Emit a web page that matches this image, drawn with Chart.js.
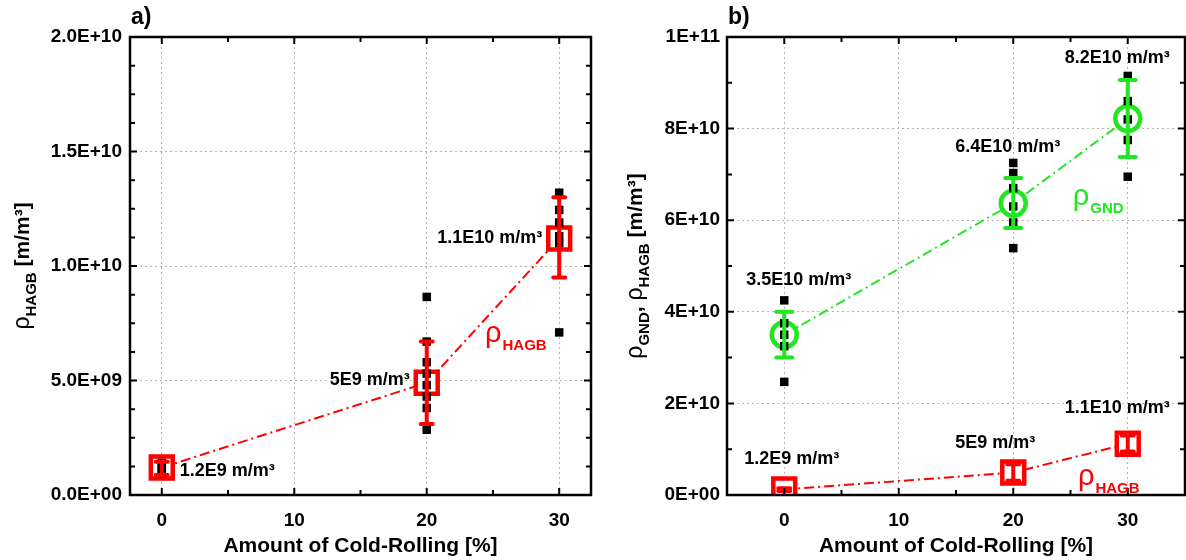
<!DOCTYPE html>
<html>
<head>
<meta charset="utf-8">
<script src="https://cdn.jsdelivr.net/npm/chart.js@4.4.1/dist/chart.umd.min.js"></script>
<style>
  html, body { margin: 0; padding: 0; background: #fff; }
  #wrap { position: relative; width: 1186px; height: 560px; overflow: hidden; }
  canvas { position: absolute; top: 0; }
  #chart-a { left: 0; }
  #chart-b { left: 600px; }
</style>
</head>
<body>
<div id="wrap">
  <canvas id="chart-a" width="600" height="560"></canvas>
  <canvas id="chart-b" width="586" height="560"></canvas>
</div>
<script>
// ── Data ──────────────────────────────────────────────────────────────────────
const rolling  = [0, 20, 30];               // amount of cold-rolling [%]
const hagbMean = [1.2e9, 4.9e9, 1.12e10];
const hagbLow  = [0.87e9, 3.1e9, 9.5e9];
const hagbHigh = [1.45e9, 6.7e9, 1.3e10];
const gndMean  = [3.5e10, 6.37e10, 8.22e10];
const gndLow   = [3.0e10, 5.83e10, 7.38e10];
const gndHigh  = [4.0e10, 6.92e10, 9.06e10];

// individual measurements (black squares)
const hagbPts0  = [0.95e9, 1.1e9, 1.3e9, 1.4e9];
const hagbPts20 = [8.65e9, 6.7e9, 5.8e9, 5.3e9, 4.8e9, 4.3e9, 3.8e9, 2.85e9];
const hagbPts30 = [1.32e10, 1.245e10, 1.19e10, 1.13e10, 1.1e10, 7.1e9];
const gndPts0   = [4.25e10, 3.75e10, 3.5e10, 3.25e10, 2.47e10];
const gndPts20  = [7.25e10, 7.03e10, 6.7e10, 6.3e10, 5.95e10, 5.39e10];
const gndPts30  = [9.15e10, 8.6e10, 8.2e10, 7.75e10, 6.95e10];

const hagbText = ["1.2E9 m/m³", "5E9 m/m³", "1.1E10 m/m³"];
const gndText  = ["3.5E10 m/m³", "6.4E10 m/m³", "8.2E10 m/m³"];

const xTicks   = [0, 10, 20, 30];
const yTicksA  = [0, 5e9, 1e10, 1.5e10, 2e10];
const yLabelsA = ["0.0E+00", "5.0E+09", "1.0E+10", "1.5E+10", "2.0E+10"];
const yTicksB  = [0, 2e10, 4e10, 6e10, 8e10, 1e11];
const yLabelsB = ["0E+00", "2E+10", "4E+10", "6E+10", "8E+10", "1E+11"];

// ── Helpers ───────────────────────────────────────────────────────────────────
const RED = "#ff0000";
const GREEN = "#22e622";
const FONT = "'Liberation Sans', Arial, sans-serif";

const meanPoints = ys => ys.map((y, i) => ({ x: rolling[i], y }));
const measPoints = groups => groups.flatMap((ys, i) => ys.map(y => ({ x: rolling[i], y })));

const decorPlugin = {
  id: "decor",
  afterDatasetsDraw(chart, args, o) {
    const { ctx, scales: { x, y } } = chart;
    o.errorBars.forEach(eb => {
      ctx.save();
      ctx.strokeStyle = eb.color;
      ctx.lineWidth = 4;
      ctx.lineCap = "round";
      eb.low.forEach((lv, i) => {
        const px = x.getPixelForValue(rolling[i]);
        const lo = y.getPixelForValue(lv), hi = y.getPixelForValue(eb.high[i]);
        ctx.beginPath();
        ctx.moveTo(px, lo); ctx.lineTo(px, hi);
        ctx.moveTo(px - eb.cap, lo); ctx.lineTo(px + eb.cap, lo);
        ctx.moveTo(px - eb.cap, hi); ctx.lineTo(px + eb.cap, hi);
        ctx.stroke();
      });
      ctx.restore();
    });
  },
  afterDraw(chart, args, o) {
    const { ctx, chartArea: a, scales: { x, y } } = chart;
    ctx.save();

    // frame + inward ticks
    ctx.strokeStyle = "#000";
    ctx.lineWidth = 2.5;
    ctx.strokeRect(a.left, a.top, a.right - a.left, a.bottom - a.top);
    ctx.lineWidth = 2;
    ctx.beginPath();
    const tickX = (v, len) => {
      const p = x.getPixelForValue(v);
      ctx.moveTo(p, a.bottom); ctx.lineTo(p, a.bottom - len);
      ctx.moveTo(p, a.top); ctx.lineTo(p, a.top + len);
    };
    const tickY = (v, len) => {
      const p = y.getPixelForValue(v);
      ctx.moveTo(a.left, p); ctx.lineTo(a.left + len, p);
      ctx.moveTo(a.right, p); ctx.lineTo(a.right - len, p);
    };
    for (let v = Math.ceil(x.min / o.minorX) * o.minorX; v <= x.max; v += o.minorX) tickX(v, xTicks.includes(v) ? 7 : 5);
    for (let v = 0; v <= y.max + 1; v += o.minorY) tickY(v, o.yMajor.some(m => Math.abs(m - v) < o.minorY / 10) ? 7 : 5);
    ctx.stroke();

    // panel letter
    ctx.fillStyle = "#000";
    ctx.font = `bold 23px ${FONT}`;
    ctx.textBaseline = "middle";
    ctx.textAlign = "left";
    ctx.fillText(o.panel, a.left + 1, 18);

    // value labels
    ctx.font = `bold 18px ${FONT}`;
    o.labels.forEach(l => {
      ctx.fillStyle = l.color || "#000";
      ctx.textAlign = l.align;
      ctx.fillText(l.text, x.getPixelForValue(l.x) + l.dx, y.getPixelForValue(l.y) + l.dy);
    });

    // rho labels with subscript
    ctx.textAlign = "left";
    ctx.textBaseline = "alphabetic";
    o.rhos.forEach(r => {
      const px = x.getPixelForValue(r.x), py = y.getPixelForValue(r.y);
      ctx.fillStyle = r.color;
      ctx.font = `29px ${FONT}`;
      ctx.fillText("ρ", px, py);
      const w = ctx.measureText("ρ").width;
      ctx.font = `bold 15px ${FONT}`;
      ctx.fillText(r.sub, px + w + 1, py + 8);
    });

    // rotated y title with subscripts
    ctx.fillStyle = "#000";
    ctx.translate(o.yTitleX, (a.top + a.bottom) / 2);
    ctx.rotate(-Math.PI / 2);
    const parts = o.yTitle.map(p => {
      ctx.font = p.font;
      return { ...p, w: ctx.measureText(p.t).width };
    });
    let u = -parts.reduce((s, p) => s + p.w, 0) / 2;
    parts.forEach(p => {
      ctx.font = p.font;
      ctx.fillText(p.t, u, p.sub ? 15 : 8);
      u += p.w;
    });
    ctx.restore();
  }
};

function axisX(min, max) {
  return {
    type: "linear", min, max,
    afterBuildTicks: s => { s.ticks = xTicks.map(v => ({ value: v })); },
    afterFit: s => { s.height = 65; s.paddingLeft = 0; s.paddingRight = 0; },
    ticks: { color: "#000", padding: 14, font: { family: FONT, size: 19, weight: "bold" } },
    grid: { color: "#b5b5b5", lineWidth: 1, drawTicks: false },
    border: { display: false, dash: [2, 3] },
    title: {
      display: true, text: "Amount of Cold-Rolling [%]", color: "#000",
      font: { family: FONT, size: 21, weight: "bold" }, padding: { top: 0, bottom: 1 },
    },
  };
}

function axisY(max, ticks, labels, width, pad) {
  return {
    min: 0, max,
    afterBuildTicks: s => { s.ticks = ticks.map(v => ({ value: v })); },
    afterFit: s => { s.width = width; s.paddingTop = 0; s.paddingBottom = 0; },
    ticks: { color: "#000", padding: pad, font: { family: FONT, size: 19, weight: "bold" },
             callback: (v, i) => labels[i] },
    grid: { color: "#b5b5b5", lineWidth: 1, drawTicks: false },
    border: { display: false, dash: [2, 3] },
  };
}

const titleParts = (pieces) => pieces.map(([t, sub]) => ({
  t, sub, font: sub ? `bold 15px ${FONT}` : (t === "ρ" ? `23px ${FONT}` : `bold 21px ${FONT}`),
}));

// ── Panel a) ──────────────────────────────────────────────────────────────────
new Chart(document.getElementById("chart-a"), {
  type: "scatter",
  data: {
    datasets: [
      { data: measPoints([hagbPts0, hagbPts20, hagbPts30]), order: 1,
        pointStyle: "rect", pointRadius: 6, backgroundColor: "#000", borderWidth: 0 },
      { data: meanPoints(hagbMean), order: 2,
        pointStyle: "rect", pointRadius: 15.5, borderColor: RED, borderWidth: 4.5, backgroundColor: "#fff" },
      { data: meanPoints(hagbMean), order: 3, showLine: true, pointRadius: 0,
        borderColor: RED, borderWidth: 2, borderDash: [10, 4, 2, 4] },
    ],
  },
  options: {
    responsive: false,
    animation: false,
    layout: { autoPadding: false, padding: { left: 0, right: 9, top: 37, bottom: 0 } },
    plugins: {
      legend: { display: false },
      tooltip: { enabled: false },
      decor: {
        panel: "a)",
        minorX: 5, minorY: 1.25e9, yMajor: yTicksA,
        errorBars: [{ low: hagbLow, high: hagbHigh, color: RED, cap: 6 }],
        labels: [
          { text: hagbText[0], x: rolling[0], y: hagbMean[0], dx: 18, dy: 4, align: "left" },
          { text: hagbText[1], x: rolling[1], y: hagbMean[1], dx: -17, dy: -3, align: "right" },
          { text: hagbText[2], x: rolling[2], y: hagbMean[2], dx: -17, dy: 0, align: "right" },
        ],
        rhos: [{ x: 24.4, y: 6.68e9, sub: "HAGB", color: RED }],
        yTitleX: 21,
        yTitle: titleParts([["ρ", false], ["HAGB", true], [" [m/m³]", false]]),
      },
    },
    scales: {
      x: axisX(-2.4, 32.4),
      y: axisY(2e10, yTicksA, yLabelsA, 130, 8),
    },
  },
  plugins: [decorPlugin],
});

// ── Panel b) ──────────────────────────────────────────────────────────────────
new Chart(document.getElementById("chart-b"), {
  type: "scatter",
  data: {
    datasets: [
      { data: measPoints([gndPts0, gndPts20, gndPts30]), order: 1,
        pointStyle: "rect", pointRadius: 6, backgroundColor: "#000", borderWidth: 0 },
      { data: meanPoints(gndMean), order: 2,
        pointStyle: "circle", pointRadius: 12.5, borderColor: GREEN, borderWidth: 4.5, backgroundColor: "#fff" },
      { data: meanPoints(hagbMean), order: 2,
        pointStyle: "rect", pointRadius: 15.5, borderColor: RED, borderWidth: 4.5, backgroundColor: "#fff" },
      { data: meanPoints(gndMean), order: 3, showLine: true, pointRadius: 0,
        borderColor: GREEN, borderWidth: 2, borderDash: [10, 4, 2, 4] },
      { data: meanPoints(hagbMean), order: 3, showLine: true, pointRadius: 0,
        borderColor: RED, borderWidth: 2, borderDash: [10, 4, 2, 4] },
    ],
  },
  options: {
    responsive: false,
    animation: false,
    layout: { autoPadding: false, padding: { left: 0, right: 1, top: 37, bottom: 0 } },
    plugins: {
      legend: { display: false },
      tooltip: { enabled: false },
      decor: {
        panel: "b)",
        minorX: 5, minorY: 1e10, yMajor: yTicksB,
        errorBars: [
          { low: gndLow, high: gndHigh, color: GREEN, cap: 8 },
          { low: hagbLow, high: hagbHigh, color: RED, cap: 6 },
        ],
        labels: [
          { text: gndText[0], x: rolling[0], y: gndMean[0], dx: -38, dy: -55, align: "left" },
          { text: gndText[1], x: rolling[1], y: gndMean[1], dx: -58, dy: -56, align: "left" },
          { text: gndText[2], x: rolling[2], y: gndMean[2], dx: -63, dy: -60, align: "left" },
          { text: hagbText[0], x: rolling[0], y: hagbMean[0], dx: -40, dy: -30, align: "left" },
          { text: hagbText[1], x: rolling[1], y: hagbMean[1], dx: -58, dy: -30, align: "left" },
          { text: hagbText[2], x: rolling[2], y: hagbMean[2], dx: -63, dy: -36, align: "left" },
        ],
        rhos: [
          { x: 25.2, y: 6.33e10, sub: "GND", color: GREEN },
          { x: 25.65, y: 2.2e9, sub: "HAGB", color: RED },
        ],
        yTitleX: 34,
        yTitle: titleParts([["ρ", false], ["GND", true], [", ", false], ["ρ", false], ["HAGB", true], [" [m/m³]", false]]),
      },
    },
    scales: {
      x: axisX(-5, 35),
      y: axisY(1e11, yTicksB, yLabelsB, 127, 7),
    },
  },
  plugins: [decorPlugin],
});
</script>
</body>
</html>
